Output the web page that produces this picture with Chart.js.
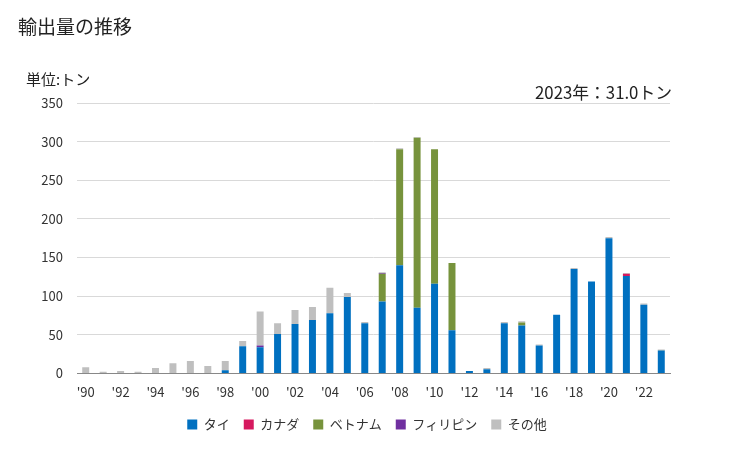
<!DOCTYPE html>
<html>
<head>
<meta charset="utf-8">
<script src="https://cdn.jsdelivr.net/npm/chart.js@4"></script>
<style>
body { margin: 0; background: #fff; font-family: "Noto Sans CJK JP", "Noto Sans", sans-serif; }
#wrap { position: relative; width: 729px; height: 450px; }
#title { position: absolute; left: 18px; top: 12px; font-size: 19px; color: #222; }
#unit { position: absolute; left: 26px; top: 68px; font-size: 15px; color: #222; }
#note { position: absolute; right: 57px; top: 80px; font-size: 16.8px; color: #222; }
</style>
</head>
<body>
<div id="wrap">
<canvas id="chart" width="729" height="450"></canvas>
<div id="title">輸出量の推移</div>
<div id="unit">単位:トン</div>
<div id="note">2023年：31.0トン</div>
</div>
<script>
var years = ['1990','1991','1992','1993','1994','1995','1996','1997','1998','1999',
	'2000','2001','2002','2003','2004','2005','2006','2007','2008','2009',
	'2010','2011','2012','2013','2014','2015','2016','2017','2018','2019',
	'2020','2021','2022','2023'];
var thai =        [0,0,0,0,0,0,0,0,4,35, 34,51,64,69,78,99,65,93,140,85, 116,56,3,5.5,65,62,36,76,135,119, 175,126,89,29.5];
var canada =      [0,0,0,0,0,0,0,0,0,0, 0,0,0,0,0,0,0,0,0,0, 0,0,0,0,0,0,0,0,0,0, 0,3,0,0];
var vietnam =     [0,0,0,0,0,0,0,0,0,0, 0,0,0,0,0,0,0,36,150,220, 174,87,0,0,0,4,0,0,0,0, 0,0,0,0.5];
var philippines = [0,0,0,0,0,0,0,0,0,0, 2,0,0,0,0,0,0,1,0,0, 0,0,0,0,0,0,0,0,0,0, 0,0,0,0];
var others =      [8,2,3,2,7,13,16,9.5,12,7, 44,14,18,17,33,5,1.5,1,1.5,1, 0,0,0,1.5,1.5,1.5,1.5,0,1.5,0, 1.5,1,1.5,1];
var yTicks = [0,50,100,150,200,250,300,350];

var series = [
	{ label: 'タイ', data: thai, color: '#0070C0' },
	{ label: 'カナダ', data: canada, color: '#D6195F' },
	{ label: 'ベトナム', data: vietnam, color: '#77933C' },
	{ label: 'フィリピン', data: philippines, color: '#7030A0' },
	{ label: 'その他', data: others, color: '#BFBFBF' }
];

var datasets = series.map(function(s) {
	return {
		label: s.label,
		data: s.data,
		backgroundColor: s.color,
		borderWidth: 0,
		barPercentage: 0.8,
		categoryPercentage: 0.5
	};
});

var font = { family: '"Noto Sans CJK JP", "Noto Sans", sans-serif', size: 13 };

// the reference legend sits a bit right of the plot centre and a bit higher
var shiftLegend = {
	id: 'shiftLegend',
	afterLayout: function(chart) {
		chart.legend.left += 32;
		chart.legend.right += 32;
		chart.legend.top -= 7;
		chart.legend.bottom -= 7;
	}
};

new Chart(document.getElementById('chart').getContext('2d'), {
	type: 'bar',
	data: { labels: years, datasets: datasets },
	plugins: [shiftLegend],
	options: {
		responsive: false,
		animation: false,
		layout: { padding: { top: 103, right: 59, left: 0, bottom: 2 } },
		plugins: {
			legend: {
				position: 'bottom',
				labels: {
					boxWidth: 10, boxHeight: 10, padding: 14,
					color: '#333', font: { family: font.family, size: 13 }
				}
			},
			tooltip: { enabled: false }
		},
		scales: {
			x: {
				stacked: true,
				grid: { display: false, drawTicks: false },
				border: { color: '#888', width: 1 },
				ticks: {
					autoSkip: false, maxRotation: 0, padding: 11,
					color: '#333', font: font,
					callback: function(v, i) {
						return i % 2 === 0 ? "'" + years[i].slice(2) : '';
					}
				}
			},
			y: {
				stacked: true,
				min: 0, max: 350,
				afterBuildTicks: function(scale) {
					scale.ticks = yTicks.map(function(v) { return { value: v }; });
				},
				afterFit: function(scale) { scale.width = 77; },
				grid: { color: '#d9d9d9', drawTicks: false },
				border: { display: false },
				ticks: { padding: 14, color: '#333', font: font }
			}
		}
	}
});
</script>
</body>
</html>
